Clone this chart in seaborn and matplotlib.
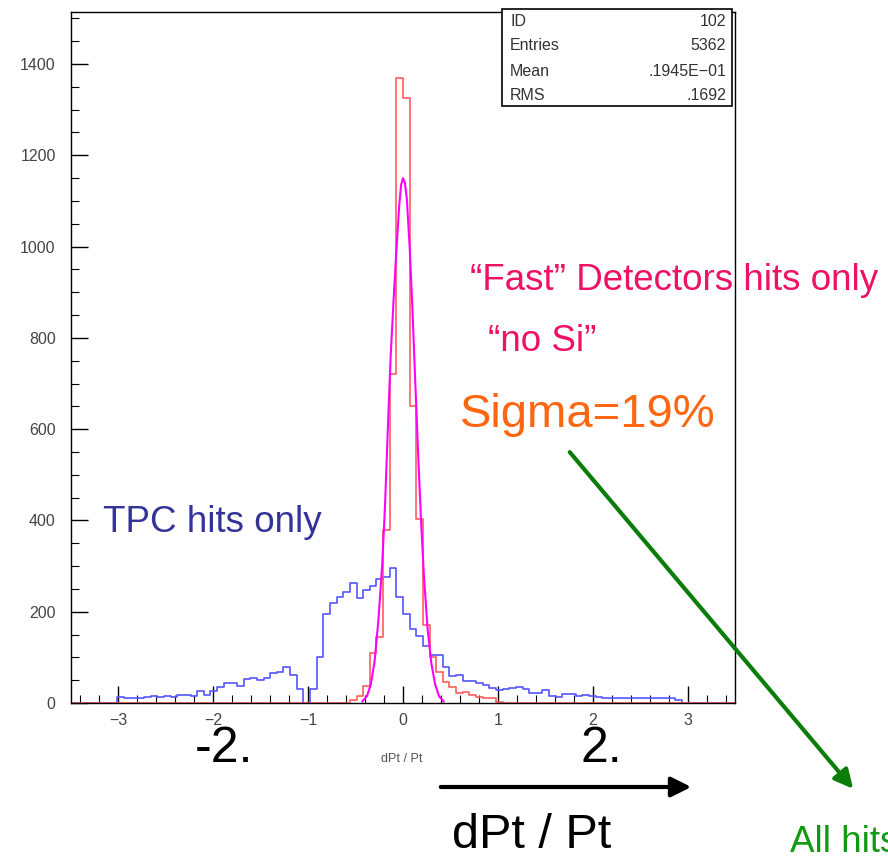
import numpy as np
import pandas as pd
import seaborn as sns
import matplotlib.pyplot as plt
from matplotlib.patches import Rectangle, FancyArrowPatch

# histogram binning: 100 bins on [-3.5, 3.5]
bin_lo = -3.5
bin_hi = 3.5
n_bins = 100
bin_width = (bin_hi - bin_lo) / n_bins

# TPC hits only (blue), counts per bin
blue_counts = [0, 0, 0, 0, 0, 0, 0, 14, 10, 12,
               12, 14, 16, 14, 16, 14, 18, 18, 15, 27,
               18, 27, 36, 43, 43, 37, 52, 54, 50, 54,
               65, 67, 78, 61, 30, 0, 30, 101, 195, 220,
               233, 244, 263, 230, 248, 257, 271, 276, 296, 232,
               196, 163, 147, 125, 105, 105, 78, 60, 62, 49,
               48, 43, 39, 32, 28, 30, 32, 34, 30, 23,
               23, 28, 16, 13, 20, 20, 15, 18, 15, 14,
               12, 12, 12, 11, 11, 11, 11, 10, 11, 11,
               10, 6, 0, 0, 0, 0, 0, 0, 0, 0]

# "Fast" detectors hits only (red), counts per bin
red_counts = [0] * 42 + [7, 16, 37, 110, 145, 380, 721, 1370, 1325, 651,
                         403, 171, 100, 69, 47, 34, 23, 25, 17, 14,
                         10, 10, 3] + [0] * 35

# gaussian fit curve (magenta)
fit_x = [-0.43, -0.38, -0.34, -0.30, -0.26, -0.22, -0.19, -0.16, -0.13,
         -0.10, -0.07, -0.04, -0.02, 0.00, 0.02, 0.04, 0.07, 0.10, 0.13,
         0.16, 0.19, 0.22, 0.26, 0.30, 0.34, 0.38, 0.43]
fit_y = [3, 15, 40, 90, 180, 300, 430, 600, 760,
         880, 990, 1090, 1135, 1150, 1140, 1105, 1000, 860, 700,
         545, 400, 280, 160, 85, 40, 15, 3]

stats_names = ['ID', 'Entries', 'Mean', 'RMS']
stats_values = ['102', '5362', '.1945E\u221201', '.1692']

centers = bin_lo + bin_width * (np.arange(n_bins) + 0.5)
df = pd.DataFrame({'x': centers, 'blue': blue_counts, 'red': red_counts})

sns.set_style('white')
plt.rcParams['font.family'] = ['Liberation Sans', 'DejaVu Sans']

W, H = 888, 858
fig = plt.figure(figsize=(W / 100, H / 100), dpi=100)
ax = fig.add_axes([71 / W, 1 - 703 / H, (735 - 71) / W, (703 - 12) / H])


def fx(px):
    return px / W


def fy(py):
    return 1 - py / H


sns.histplot(data=df, x='x', weights='blue', bins=n_bins, binrange=(bin_lo, bin_hi),
             element='step', fill=False, color='#5555ff', linewidth=1.2, ax=ax)
sns.histplot(data=df, x='x', weights='red', bins=n_bins, binrange=(bin_lo, bin_hi),
             element='step', fill=False, color='#ff5c5c', linewidth=1.2, ax=ax)
sns.lineplot(x=fit_x, y=fit_y, color='#ff00ff', linewidth=1.5, sort=False, ax=ax)

ax.set_xlim(-3.5, 3.5)
ax.set_ylim(0, 1514)
ax.set_xlabel('')
ax.set_ylabel('')
ax.set_xticks([-3, -2, -1, 0, 1, 2, 3])
ax.set_xticks(np.arange(-3.4, 3.5, 0.2), minor=True)
ax.set_yticks([0, 200, 400, 600, 800, 1000, 1200, 1400])
ax.set_yticks(np.arange(0, 1514, 50), minor=True)
ax.tick_params(which='major', direction='in', length=12, width=1, colors='black',
               labelcolor='#444444', labelsize=11.5)
ax.tick_params(which='minor', direction='in', length=6, width=0.8, colors='black')
ax.tick_params(axis='x', which='both', bottom=True, top=False, pad=7)
ax.tick_params(axis='y', which='both', left=True, right=False, pad=11)
for s in ax.spines.values():
    s.set_color('black')
    s.set_linewidth(1.0)

# small axis title
fig.text(fx(402), fy(762), 'dPt / Pt', fontsize=9, color='#555555', ha='center', va='baseline')

# stats box
fig.add_artist(Rectangle((fx(502), fy(106)), (732 - 502) / W, (106 - 9) / H,
                         transform=fig.transFigure, facecolor='white',
                         edgecolor='black', linewidth=1.2, zorder=5))
for i, (n, v) in enumerate(zip(stats_names, stats_values)):
    yy = fy(21 + 25 * i)
    fig.text(fx(510), yy, n, fontsize=11.5, color='#333333', ha='left', va='center', zorder=6)
    fig.text(fx(726), yy, v, fontsize=11.5, color='#333333', ha='right', va='center', zorder=6)

# annotations
fig.text(fx(103), fy(532), 'TPC hits only', fontsize=26.5, color='#333399', va='baseline')
fig.text(fx(470), fy(290), '\u201cFast\u201d Detectors hits only', fontsize=26.5,
         color='#ee1166', va='baseline')
fig.text(fx(488), fy(351), '\u201cno Si\u201d', fontsize=26.5, color='#ee1166', va='baseline')
fig.text(fx(460), fy(427), 'Sigma=19%', fontsize=34, color='#ff6611', va='baseline')
fig.text(fx(195), fy(762), '-2.', fontsize=36, color='black', va='baseline')
fig.text(fx(580), fy(762), '2.', fontsize=36, color='black', va='baseline')
fig.text(fx(452), fy(848), 'dPt / Pt', fontsize=35, color='black', va='baseline')
fig.text(fx(790), fy(852), 'All hits', fontsize=26.5, color='#119911', va='baseline')

fig.add_artist(FancyArrowPatch(
    (fx(568), fy(450)), (fx(855), fy(791)), transform=fig.transFigure,
    arrowstyle='-|>', mutation_scale=28, linewidth=3, color='#0b7d0b'))
fig.add_artist(FancyArrowPatch(
    (fx(438), fy(787)), (fx(694), fy(787)), transform=fig.transFigure,
    arrowstyle='-|>', mutation_scale=30, linewidth=3, color='black'))

fig.savefig('out.png', dpi=100)
